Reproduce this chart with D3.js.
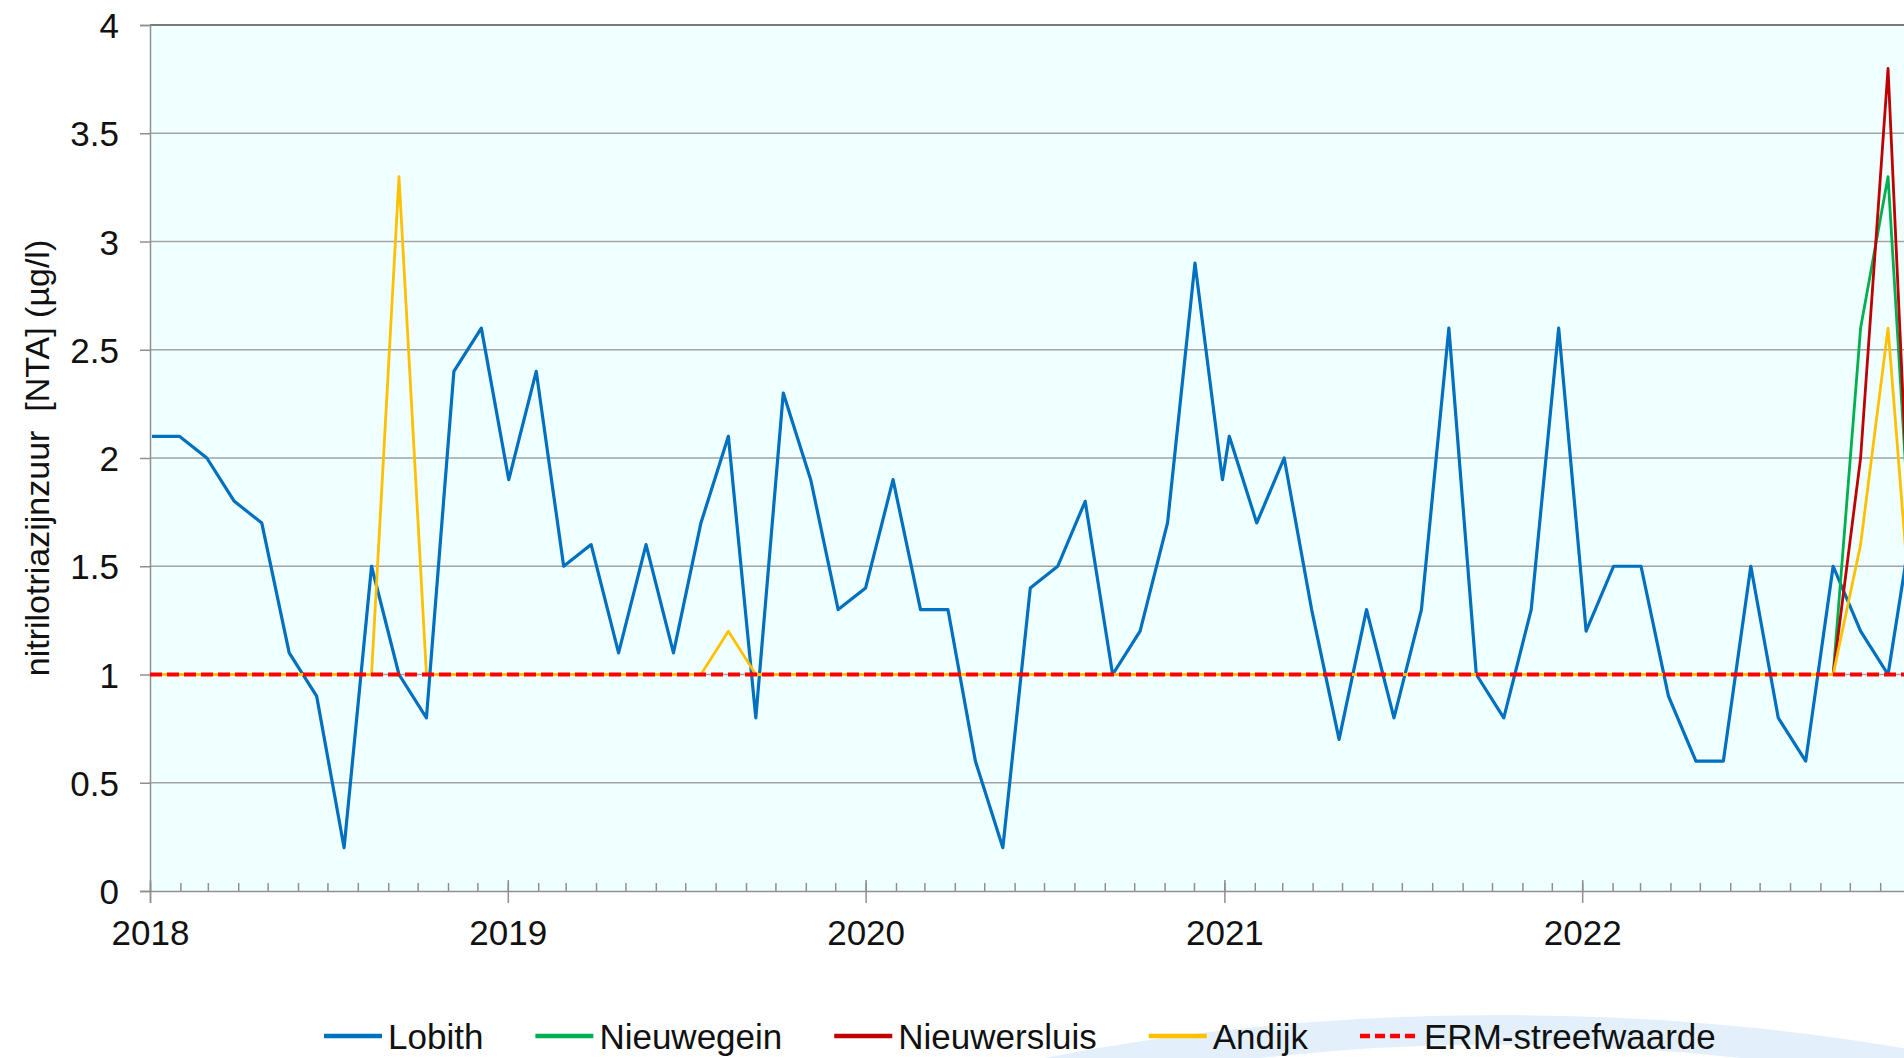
<!DOCTYPE html>
<meta charset="utf-8">

<!-- Load d3.js -->
<script src="https://d3js.org/d3.v7.min.js"></script>

<style>
  body { margin: 0; background: #ffffff; }
  svg { display: block; font-family: "Liberation Sans", Arial, sans-serif; }
</style>

<!-- Create a div where the graph will take place -->
<div id="my_dataviz"></div>

<script>

// sampling dates (four-weekly)
var dates = [
  "2018-01-03","2018-01-31","2018-02-28","2018-03-28","2018-04-25","2018-05-23","2018-06-20","2018-07-18","2018-08-15","2018-09-12","2018-10-10","2018-11-07","2018-12-05",
  "2019-01-02","2019-01-30","2019-02-27","2019-03-27","2019-04-24","2019-05-22","2019-06-19","2019-07-17","2019-08-14","2019-09-11","2019-10-09","2019-11-06","2019-12-04",
  "2020-01-01","2020-01-29","2020-02-26","2020-03-25","2020-04-22","2020-05-20","2020-06-17","2020-07-15","2020-08-12","2020-09-09","2020-10-07","2020-11-04","2020-12-02","2020-12-30",
  "2021-01-06","2021-02-03","2021-03-03","2021-03-31","2021-04-28","2021-05-26","2021-06-23","2021-07-21","2021-08-18","2021-09-15","2021-10-13","2021-11-10","2021-12-08",
  "2022-01-05","2022-02-02","2022-03-02","2022-03-30","2022-04-27","2022-05-25","2022-06-22","2022-07-20","2022-08-17","2022-09-14","2022-10-12","2022-11-09","2022-12-07"
];

var lobith = [
  2.1, 2.1, 2.0, 1.8, 1.7, 1.1, 0.9, 0.2, 1.5, 1.0, 0.8, 2.4, 2.6,
  1.9, 2.4, 1.5, 1.6, 1.1, 1.6, 1.1, 1.7, 2.1, 0.8, 2.3, 1.9, 1.3,
  1.4, 1.9, 1.3, 1.3, 0.6, 0.2, 1.4, 1.5, 1.8, 1.0, 1.2, 1.7, 2.9, 1.9,
  2.1, 1.7, 2.0, 1.3, 0.7, 1.3, 0.8, 1.3, 2.6, 1.0, 0.8, 1.3, 2.6,
  1.2, 1.5, 1.5, 0.9, 0.6, 0.6, 1.5, 0.8, 0.6, 1.5, 1.2, 1.0, 1.8
];

var andijk = [
  1.0, 1.0, 1.0, 1.0, 1.0, 1.0, 1.0, 1.0, 1.0, 3.3, 1.0, 1.0, 1.0,
  1.0, 1.0, 1.0, 1.0, 1.0, 1.0, 1.0, 1.0, 1.2, 1.0, 1.0, 1.0, 1.0,
  1.0, 1.0, 1.0, 1.0, 1.0, 1.0, 1.0, 1.0, 1.0, 1.0, 1.0, 1.0, 1.0, 1.0,
  1.0, 1.0, 1.0, 1.0, 1.0, 1.0, 1.0, 1.0, 1.0, 1.0, 1.0, 1.0, 1.0,
  1.0, 1.0, 1.0, 1.0, 1.0, 1.0, 1.0, 1.0, 1.0, 1.0, 1.6, 2.6, 1.0
];

// Nieuwegein and Nieuwersluis only show up in autumn 2022
var lateDates = ["2022-09-14","2022-10-12","2022-11-09","2022-12-07"];
var nieuwegein = [1.0, 2.6, 3.3, 1.2];
var nieuwersluis = [1.0, 2.0, 3.8, 1.0];

var ermValue = 1;

var yTicks = [0, 0.5, 1, 1.5, 2, 2.5, 3, 3.5, 4];
var xYears = [2018, 2019, 2020, 2021, 2022];

var seriesNames = ["Lobith", "Nieuwegein", "Nieuwersluis", "Andijk", "ERM-streefwaarde"];
var seriesColors = ["#0070c0", "#00b050", "#c00000", "#ffc000", "#ff0000"];

// setting the dimensions and margins of the graph
var margin = {top: 25, left: 150},
    width = 1790,
    height = 866;

var svg0 = d3.select("#my_dataviz")
  .append("svg")
    .attr("width", 1904)
    .attr("height", 1058);

// light blue swoosh of the background logo
svg0.append("path")
  .attr("d", "M1044,1058 A1000,390 0 0 1 1956,1058 L1740,1058 A920,380 0 0 0 1260,1058 Z")
  .style("fill", "#e3f0fb");

var svg = svg0.append("g")
    .attr("transform", "translate(" + margin.left + "," + margin.top + ")");

var parse = d3.utcParse("%Y-%m-%d");

var x = d3.scaleUtc()
  .domain([new Date(Date.UTC(2018, 0, 1)), new Date(Date.UTC(2023, 0, 1))])
  .range([0, width]);
var y = d3.scaleLinear().domain([0, 4]).range([height, 0]);

// plot background
svg.append("rect")
  .attr("width", width)
  .attr("height", height)
  .style("fill", "#f0ffff");

// horizontal gridlines
svg.append("g")
  .selectAll("line")
  .data(yTicks.filter(function(d){ return d > 0; }))
  .enter()
  .append("line")
    .attr("x1", 0)
    .attr("x2", width)
    .attr("y1", function(d){ return y(d); })
    .attr("y2", function(d){ return y(d); })
    .style("stroke", function(d){ return d == 4 ? "#7a7a7a" : "#a3a3a3"; })
    .style("stroke-width", function(d){ return d == 4 ? 2 : 1.5; });

// Y axis
var yAxis = svg.append("g")
  .call(d3.axisLeft(y).tickValues(yTicks).tickSize(10).tickPadding(21).tickFormat(function(d){ return d; }));
yAxis.select(".domain").style("stroke", "#8f8f8f").style("stroke-width", 1.5);
yAxis.selectAll(".tick line").style("stroke", "#8f8f8f").style("stroke-width", 1.5);
yAxis.selectAll("text")
  .attr("dy", "0.36em")
  .style("font-size", "35px")
  .style("fill", "#111");

// X axis: monthly minor ticks pointing up
svg.append("g")
  .attr("transform", "translate(0," + height + ")")
  .call(d3.axisBottom(x).ticks(d3.utcMonth.every(1)).tickSize(-8).tickFormat(""))
  .call(function(g){
    g.select(".domain").remove();
    g.selectAll(".tick line").style("stroke", "#8f8f8f").style("stroke-width", 1.5);
  });

// X axis: years
var xAxis = svg.append("g")
  .attr("transform", "translate(0," + height + ")")
  .call(d3.axisBottom(x)
    .tickValues(xYears.map(function(yr){ return new Date(Date.UTC(yr, 0, 1)); }))
    .tickSize(12)
    .tickFormat(d3.utcFormat("%Y")));
xAxis.select(".domain").style("stroke", "#8f8f8f").style("stroke-width", 1.5);
xAxis.selectAll(".tick line").attr("y1", -11).style("stroke", "#8f8f8f").style("stroke-width", 1.5);
xAxis.selectAll("text")
  .attr("y", 54)
  .attr("dy", 0)
  .style("font-size", "35px")
  .style("fill", "#111");

// Y axis label
svg0.append("text")
  .attr("transform", "translate(49,458) rotate(-90)")
  .attr("text-anchor", "middle")
  .style("white-space", "pre")
  .style("font-size", "34px")
  .style("fill", "#111")
  .text("nitrilotriazijnzuur  [NTA] (µg/l)");

// Reformatting the data
var dataReady = [
  {name: seriesNames[0], width: 3.2, values: dates.map(function(d, i){ return {date: parse(d), value: lobith[i]}; })},
  {name: seriesNames[1], width: 2.8, values: lateDates.map(function(d, i){ return {date: parse(d), value: nieuwegein[i]}; })},
  {name: seriesNames[2], width: 2.8, values: lateDates.map(function(d, i){ return {date: parse(d), value: nieuwersluis[i]}; })},
  {name: seriesNames[3], width: 2.8, values: dates.map(function(d, i){ return {date: parse(d), value: andijk[i]}; })}
];

var myColor = d3.scaleOrdinal().domain(seriesNames).range(seriesColors);

var line = d3.line()
  .x(function(d) { return x(d.date); })
  .y(function(d) { return y(d.value); });

svg.selectAll("myLines")
  .data(dataReady)
  .enter()
  .append("path")
    .attr("d", function(d){ return line(d.values); })
    .attr("stroke", function(d){ return myColor(d.name); })
    .style("stroke-width", function(d){ return d.width; })
    .style("stroke-linejoin", "round")
    .style("fill", "none");

// ERM target value, dashed
svg.append("line")
  .attr("x1", x.range()[0])
  .attr("x2", x.range()[1])
  .attr("y1", y(ermValue))
  .attr("y2", y(ermValue))
  .style("stroke", myColor(seriesNames[4]))
  .style("stroke-width", 4)
  .style("stroke-dasharray", "12,5");

// Legend
var legend = svg0.append("g");
var lx = 324, ly = 1036;
seriesNames.forEach(function(name, i){
  var item = legend.append("g").attr("transform", "translate(" + lx + "," + ly + ")");
  item.append("line")
    .attr("x1", 0).attr("x2", 58)
    .attr("y1", 0).attr("y2", 0)
    .style("stroke", myColor(name))
    .style("stroke-width", 4.5)
    .style("stroke-dasharray", i == 4 ? "10,5" : null);
  var t = item.append("text")
    .attr("x", 64)
    .attr("y", 12.5)
    .style("font-size", "35px")
    .style("fill", "#111")
    .text(name);
  lx += 64 + t.node().getComputedTextLength() + 52;
});

</script>
